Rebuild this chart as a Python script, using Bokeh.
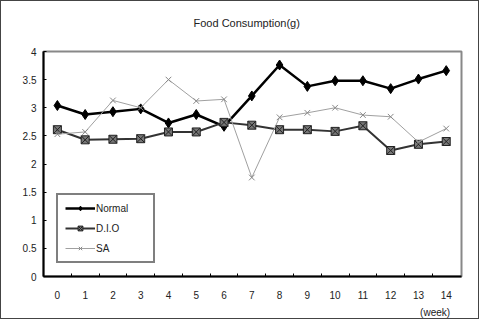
from bokeh.plotting import figure
from bokeh.models import FixedTicker, Legend, LegendItem, LinearAxis, Range1d
from bokeh.embed import file_html
from bokeh.resources import INLINE

weeks = list(range(15))
week_labels = [str(w) for w in weeks]
normal = [3.04, 2.88, 2.93, 2.98, 2.73, 2.88, 2.67, 3.21, 3.76, 3.38, 3.48, 3.48, 3.34, 3.51, 3.66]
dio = [2.61, 2.43, 2.44, 2.45, 2.57, 2.57, 2.74, 2.69, 2.61, 2.61, 2.58, 2.68, 2.24, 2.35, 2.40]
sa = [2.53, 2.57, 3.13, 3.0, 3.5, 3.12, 3.15, 1.76, 2.83, 2.91, 3.0, 2.87, 2.84, 2.39, 2.63]
y_ticks = [0, 0.5, 1, 1.5, 2, 2.5, 3, 3.5, 4]
y_tick_labels = ["0", "0.5", "1", "1.5", "2", "2.5", "3", "3.5", "4"]
x_unit_label = "(week)"
title_text = "Food Consumption(g)"

FONT = "Liberation Sans"

p = figure(width=479, height=319, output_backend="svg", toolbar_location=None,
           x_range=Range1d(-0.5, 14.55), y_range=Range1d(0, 4),
           min_border_left=42, min_border_right=19, min_border_top=50, min_border_bottom=43)
p.styles = {"border": "1px solid #444"}

p.title.text = title_text + "\n "
p.title.align = "left"
p.title.offset = 150
p.title.vertical_align = "top"
p.title.text_font = FONT
p.title.text_font_size = "11px"
p.title.text_font_style = "normal"
p.title.text_color = "#222222"
p.title.standoff = 18

p.xgrid.grid_line_color = None
p.ygrid.grid_line_color = None
p.outline_line_color = "#888888"
p.outline_line_width = 2

p.xaxis.ticker = FixedTicker(ticks=weeks, minor_ticks=[w + 0.5 for w in weeks[:-1]])
p.xaxis.major_label_overrides = {w: l for w, l in zip(weeks, week_labels)}
p.xaxis.major_tick_in = 0
p.xaxis.major_tick_out = 0
p.xaxis.minor_tick_in = 3
p.xaxis.minor_tick_out = 0
p.xaxis.major_label_standoff = 14
p.xaxis.axis_line_width = 2
p.xaxis.axis_line_color = "black"

p.yaxis.ticker = FixedTicker(ticks=y_ticks)
p.yaxis.major_label_overrides = {t: l for t, l in zip(y_ticks, y_tick_labels)}
p.yaxis.major_tick_in = 3
p.yaxis.major_tick_out = 0
p.yaxis.minor_tick_line_color = None
p.yaxis.major_label_standoff = 7
p.yaxis.axis_line_width = 2
p.yaxis.axis_line_color = "black"

unit_axis = LinearAxis(ticker=FixedTicker(ticks=[13.6]),
                       major_label_overrides={13.6: x_unit_label},
                       axis_line_color=None, major_tick_line_color=None,
                       minor_tick_line_color=None, major_label_standoff=-1)
p.add_layout(unit_axis, "below")

for ax in (p.xaxis + [p.yaxis[0]]):
    ax.major_label_text_font = FONT
    ax.major_label_text_font_size = "10px"
    ax.major_label_text_color = "#222222"

r1l = p.line(weeks, normal, line_color="black", line_width=2.5)
r1m = p.scatter(weeks, normal, marker="diamond", size=10, fill_color="black", line_color="black")
r2l = p.line(weeks, dio, line_color="#333333", line_width=2)
r2m = p.scatter(weeks, dio, marker="square_x", size=8, fill_color="#777777", line_color="#222222", line_width=1)
r3l = p.line(weeks, sa, line_color="#a0a0a0", line_width=1)
r3m = p.scatter(weeks, sa, marker="x", size=8, line_color="#888888", line_width=1)

legend = Legend(items=[
    LegendItem(label="Normal", renderers=[r1l, r1m]),
    LegendItem(label="D.I.O", renderers=[r2l, r2m]),
    LegendItem(label="SA", renderers=[r3l, r3m]),
], location=(13, 13))
legend.border_line_color = "black"
legend.border_line_width = 2
legend.label_text_font = FONT
legend.label_text_font_size = "10px"
legend.label_text_color = "#222222"
legend.glyph_width = 30
legend.glyph_height = 12
legend.spacing = 8
legend.padding = 7
legend.margin = 0
legend.label_standoff = 1
legend.label_width = 50
legend.background_fill_alpha = 1
p.add_layout(legend, "center")

open("out.html", "w").write(file_html(p, INLINE))
